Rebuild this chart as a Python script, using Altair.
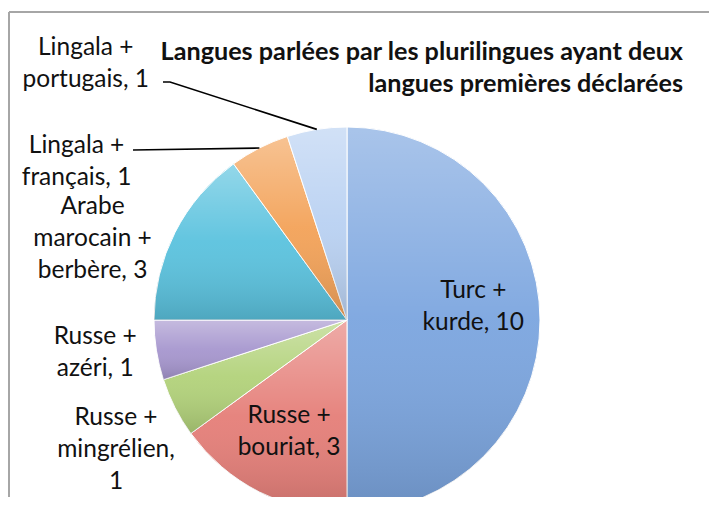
import math
import altair as alt
import pandas as pd

# ---- data ----
categories = ["Turc + kurde", "Russe + bouriat", "Russe + mingrélien", "Russe + azéri",
              "Arabe marocain + berbère", "Lingala + français", "Lingala + portugais"]
values = [10, 3, 1, 1, 3, 1, 1]
label_texts = ["Turc +\nkurde, 10", "Russe +\nbouriat, 3", "Russe +\nmingrélien,\n1",
               "Russe +\nazéri, 1", "Arabe\nmarocain +\nberbère, 3",
               "Lingala +\nfrançais, 1", "Lingala +\nportugais, 1"]
title_lines = ["Langues parlées par les plurilingues ayant deux",
               "langues premières déclarées"]

# ---- style / layout ----
colors = ["#7BA5DF", "#E57E78", "#B2D27A", "#A696CE", "#5AC2DE", "#F3A258", "#B9D1F2"]
W, H = 701, 489
CX, CY, R = 339, 312, 193
LH = 32
FS = 24.5
TFS = 25.2
label_radius = [127, 126, 265, 254, 267, 313, 366]       # px from centre
label_shift = [-0.33, 0.02, -0.13, 0.08, -0.52, -1.82, -2.03]  # in value units
leader_starts = {"Lingala + portugais": [(155, 74), (162, 74)],
                 "Lingala + français": [(125, 142)]}
FONT = "Lato"

total = sum(values)
cum = 0
rows = []
mids = {}
for i, (c, v, t) in enumerate(zip(categories, values, label_texts)):
    mid = cum + v / 2
    mids[c] = mid
    rows.append({"idx": i, "cat": c, "value": v, "text": t, "nlines": t.count("\n") + 1,
                 "lab_theta": mid + label_shift[i], "lab_r": label_radius[i]})
    cum += v
df = pd.DataFrame(rows)

lead_rows = []
for c, pts in leader_starts.items():
    ang = mids[c] / total * 2 * math.pi
    end = (CX + R * math.sin(ang), CY - R * math.cos(ang))
    for s, (x, y) in enumerate(pts + [end]):
        lead_rows.append({"grp": c, "seq": s, "lx": x, "ly": y})
lead = pd.DataFrame(lead_rows)

theta_scale = alt.Scale(domain=[0, total])

base = alt.Chart(df)
arcs = base.mark_arc(outerRadius=R, stroke="white", strokeWidth=1).encode(
    theta=alt.Theta("value:Q", stack=True, scale=theta_scale),
    color=alt.Color("cat:N", scale=alt.Scale(domain=categories, range=colors), legend=None),
    order=alt.Order("idx:Q"),
    x=alt.value(CX), y=alt.value(CY),
)
shade = base.mark_arc(
    outerRadius=R,
    fill=alt.Gradient(gradient="linear", x1=0, y1=0, x2=0, y2=1,
                      stops=[alt.GradientStop(offset=0, color="rgba(255,255,255,0.35)"),
                             alt.GradientStop(offset=0.5, color="rgba(255,255,255,0.05)"),
                             alt.GradientStop(offset=1, color="rgba(0,0,0,0.14)")]),
).encode(
    theta=alt.Theta("value:Q", stack=True, scale=theta_scale),
    order=alt.Order("idx:Q"),
    x=alt.value(CX), y=alt.value(CY),
)


def label_layer(n):
    return base.transform_filter(f"datum.nlines == {n}").mark_text(
        font=FONT, fontSize=FS, color="#111111", lineBreak="\n", lineHeight=LH,
        align="center", baseline="middle", dy=-(n - 1) * LH / 2).encode(
        theta=alt.Theta("lab_theta:Q", stack=None, scale=theta_scale),
        radius=alt.Radius("lab_r:Q", scale=None),
        text="text:N",
        x=alt.value(CX), y=alt.value(CY),
    )


leaders = alt.Chart(lead).mark_line(color="black", strokeWidth=1.6).encode(
    x=alt.X("lx:Q", scale=None, axis=None),
    y=alt.Y("ly:Q", scale=None, axis=None),
    detail="grp:N",
    order="seq:Q",
)
title = alt.Chart(pd.DataFrame({"t": ["\n".join(title_lines)]})).mark_text(
    font=FONT, fontSize=TFS, fontWeight="bold", color="#111111", lineBreak="\n",
    lineHeight=LH, align="right", baseline="middle").encode(
    text="t:N", x=alt.value(675), y=alt.value(44))
frame_top = alt.Chart(pd.DataFrame({"a": [0]})).mark_rule(color="#A6A6A6", strokeWidth=2).encode(
    x=alt.value(1), x2=alt.value(W), y=alt.value(4))
frame_left = alt.Chart(pd.DataFrame({"a": [0]})).mark_rule(color="#A6A6A6", strokeWidth=2).encode(
    x=alt.value(1), y=alt.value(4), y2=alt.value(H))

chart = alt.layer(arcs, shade, leaders, label_layer(2), label_layer(3), title,
                  frame_top, frame_left).properties(
    width=W, height=H, autosize=alt.AutoSizeParams(type="none"), padding=0,
).configure_view(stroke=None)

chart.save("out.html", embed_options={"renderer": "svg", "actions": False})
